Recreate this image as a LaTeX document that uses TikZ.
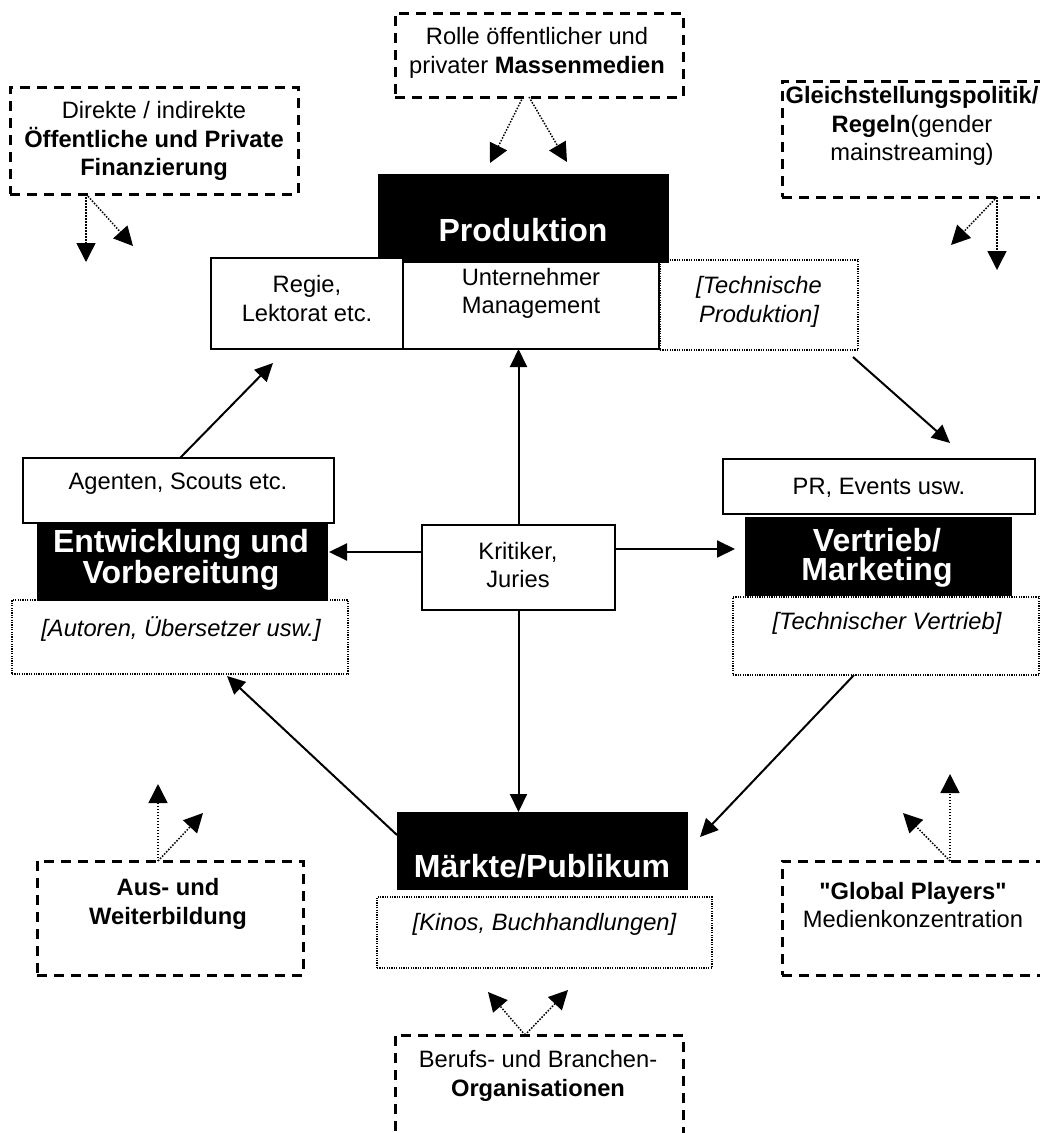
\documentclass[tikz,border=0pt]{standalone}
\usepackage{fontspec}
\setmainfont{Liberation Sans}
\usetikzlibrary{arrows.meta,calc}
\begin{document}
\begin{tikzpicture}[x=1pt,y=-1pt,
  every node/.style={inner sep=0pt,outer sep=0pt},
  txt/.style={font=\fontsize{23.7}{28.5}\selectfont,align=center},
  ittxt/.style={font=\fontsize{23.7}{28.5}\selectfont\itshape,align=center},
  bigtxt/.style={font=\fontsize{32}{29}\selectfont\bfseries,text=white,align=center},
  plainbox/.style={draw,line width=2pt,fill=white,anchor=north west},
  blackbox/.style={draw,fill=black,line width=1pt,anchor=north west},
  dotbox/.style={draw,line width=1.2pt,dash pattern=on 1.2pt off 1.2pt,anchor=north west},
  dashbox/.style={draw,line width=3pt,dash pattern=on 10pt off 7pt,anchor=north west},
  arr/.style={line width=2pt,-{Triangle[length=18pt,width=17pt]}},
  darr/.style={line width=1.5pt,dash pattern=on 1.5pt off 1.5pt,-{Triangle[length=19pt,width=19pt]}},
]
\useasboundingbox (0,0) rectangle (1040,1133);

% dashed influence boxes
\node[dashbox,minimum width=288pt,minimum height=107pt] (dir) at (10,87) {};
\node[dashbox,minimum width=288pt,minimum height=84pt] (rolle) at (395,13) {};
\node[dashbox,minimum width=260pt,minimum height=116pt] (gleich) at (782,81) {};
\node[dashbox,minimum width=266pt,minimum height=114pt] (aus) at (37,861) {};
\node[dashbox,minimum width=262pt,minimum height=114pt] (glob) at (782,861) {};
\node[dashbox,minimum width=288pt,minimum height=120pt] (ber) at (395,1035) {};

% Produktion group
\node[blackbox,minimum width=290pt,minimum height=88pt] (prod) at (378,174) {};
\node[plainbox,minimum width=192pt,minimum height=91pt] (regie) at (211,258) {};
\node[plainbox,minimum width=256pt,minimum height=87pt] (untern) at (403,262) {};
\node[dotbox,minimum width=198pt,minimum height=90pt] (techp) at (660,260) {};

% Entwicklung group
\node[plainbox,minimum width=311pt,minimum height=65pt] (agent) at (23,458) {};
\node[blackbox,minimum width=290pt,minimum height=77pt] (entw) at (37,523) {};
\node[dotbox,minimum width=336pt,minimum height=74pt] (autor) at (12,600) {};

% Vertrieb group
\node[plainbox,minimum width=312pt,minimum height=55pt] (pr) at (723,459) {};
\node[blackbox,minimum width=266pt,minimum height=78pt] (vert) at (745,517) {};
\node[dotbox,minimum width=306pt,minimum height=78pt] (techv) at (733,597) {};

% centre
\node[plainbox,minimum width=193pt,minimum height=85pt] (krit) at (422,525) {};

% Maerkte group
\node[blackbox,minimum width=290pt,minimum height=77pt] (mark) at (397,812) {};
\node[dotbox,minimum width=335pt,minimum height=71pt] (kinos) at (377,897) {};

% texts
\node[txt] (t-dir) at (154,141) {Direkte / indirekte\\\textbf{Öffentliche und Private}\\\textbf{Finanzierung}};
\node[txt] (t-rolle) at (537,53) {Rolle öffentlicher und\\privater \textbf{Massenmedien}};
\node[txt] (t-gleich) at (912,126) {\textbf{Gleichstellungspolitik/}\\\textbf{Regeln}(gender\\mainstreaming)};
\node[bigtxt,anchor=base] (t-prod) at (523,241) {Produktion};
\node[txt] (t-regie) at (307,298.5) {Regie,\\Lektorat etc.};
\node[txt] (t-untern) at (531,293.5) {Unternehmer\\Management};
\node[ittxt] (t-techp) at (759,302) {[Technische\\Produktion]};
\node[txt] (t-agent) at (178,484) {Agenten, Scouts etc.};
\node[bigtxt] (t-entw) at (181,560) {Entwicklung und\\Vorbereitung};
\node[ittxt] (t-autor) at (181,629) {[Autoren, Übersetzer usw.]};
\node[txt] (t-pr) at (879,488) {PR, Events usw.};
\node[bigtxt] (t-vert) at (877,558) {Vertrieb/\\Marketing};
\node[ittxt] (t-techv) at (887,623) {[Technischer Vertrieb]};
\node[txt] (t-krit) at (518,565) {Kritiker,\\Juries};
\node[bigtxt,anchor=base] (t-mark) at (542,877) {Märkte/Publikum};
\node[ittxt] (t-kinos) at (544.5,924) {[Kinos, Buchhandlungen]};
\node[txt] (t-aus) at (168,904) {\textbf{Aus- und}\\\textbf{Weiterbildung}};
\node[txt] (t-glob) at (913,905) {\textbf{\textquotedbl Global Players\textquotedbl}\\Medienkonzentration};
\node[txt] (t-ber) at (538,1076) {Berufs- und Branchen-\\\textbf{Organisationen}};

% main flow arrows
\draw[arr] ($(agent.north west)+(157,0)$) -- ($(regie.south west)+(62,14)$);
\draw[arr] (krit.north) -- (krit.north |- untern.south);
\draw[arr] ($(techp.south east)+(-5,7)$) -- ($(pr.north west)+(227,-16)$);
\draw[arr] ($(krit.north west)+(0,27)$) -- ($(entw.north east)+(2,29)$);
\draw[arr] ($(krit.north east)+(0,24)$) -- ($(vert.north west)+(-10,32)$);
\draw[arr] (krit.south) -- (krit.south |- mark.north);
\draw[arr] ($(mark.north west)+(0,23)$) -- ($(autor.south west)+(215,2)$);
\draw[arr] ($(techv.south west)+(121,0)$) -- ($(mark.north east)+(13,25)$);

% free ends of the dotted influence arrows
\coordinate (d1) at (86,262);  \coordinate (d2) at (133,246);
\coordinate (r1) at (490,163); \coordinate (r2) at (567,162);
\coordinate (g1) at (997,270); \coordinate (g2) at (951,245);
\coordinate (a1) at (158,784); \coordinate (a2) at (203,813);
\coordinate (p1) at (950,774); \coordinate (p2) at (903,813);
\coordinate (b1) at (488,992); \coordinate (b2) at (568,990);

\draw[darr] ($(dir.south west)+(76,0)$) -- (d1);
\draw[darr] ($(dir.south west)+(76,0)$) -- (d2);
\draw[darr] ($(rolle.south west)+(128,0)$) -- (r1);
\draw[darr] ($(rolle.south west)+(134,0)$) -- (r2);
\draw[darr] ($(gleich.south west)+(215,0)$) -- (g1);
\draw[darr] ($(gleich.south west)+(215,0)$) -- (g2);
\draw[darr] ($(aus.north west)+(121,0)$) -- (a1);
\draw[darr] ($(aus.north west)+(121,0)$) -- (a2);
\draw[darr] ($(glob.north west)+(168,0)$) -- (p1);
\draw[darr] ($(glob.north west)+(168,0)$) -- (p2);
\draw[darr] ($(ber.north west)+(130,0)$) -- (b1);
\draw[darr] ($(ber.north west)+(130,0)$) -- (b2);
\end{tikzpicture}
\end{document}
